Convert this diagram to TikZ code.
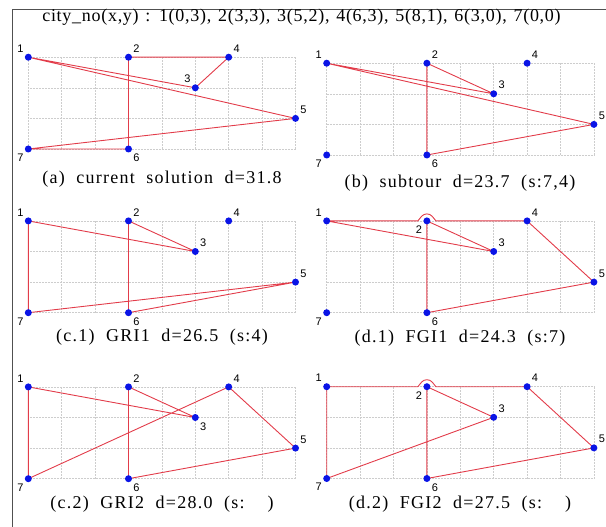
\documentclass[tikz,border=0pt]{standalone}
\usepackage{fontspec}
\setmainfont{Liberation Serif}
\newfontfamily\capfont[LetterSpace=7,WordSpace=2]{Liberation Serif}
\newfontfamily\headfont[LetterSpace=4,WordSpace=1.3]{Liberation Serif}
\newfontfamily\numfont{Liberation Sans}
\usetikzlibrary{backgrounds}
\definecolor{tourc}{HTML}{E23C4A}
\definecolor{cityc}{HTML}{0A14E6}
\definecolor{gridc}{HTML}{CDCDCD}
\definecolor{framec}{HTML}{505050}
\tikzset{
  gridln/.style={draw=gridc, densely dotted, line width=0.5pt},
  tour/.style={draw=tourc, line width=0.9pt, line join=round},
  city/.style={circle, fill=cityc, inner sep=0pt, minimum size=7pt},
  lbl/.style={font=\numfont\fontsize{11}{11}\selectfont, inner sep=1pt},
  caption/.style={font=\capfont\fontsize{18}{18}\selectfont, inner sep=1pt},
}
% grid and the seven cities of one panel: #1 prefix, #2/#3 label side of 2 and 3
\newcommand{\cityset}[3]{%
  \begin{scope}[on background layer]
    \foreach \i in {0,...,8} \draw[gridln] (\i,0) -- (\i,3);
    \foreach \j in {0,...,3} \draw[gridln] (0,\j) -- (8,\j);
  \end{scope}
  \node[city, label={[lbl]above left:1}] (#1-1) at (0,3) {};
  \node[city, label={[lbl]#2:2}] (#1-2) at (3,3) {};
  \node[city, label={[lbl]#3:3}] (#1-3) at (5,2) {};
  \node[city, label={[lbl]above right:4}] (#1-4) at (6,3) {};
  \node[city, label={[lbl]above right:5}] (#1-5) at (8,1) {};
  \node[city, label={[lbl]below right:6}] (#1-6) at (3,0) {};
  \node[city, label={[lbl]below left:7}] (#1-7) at (0,0) {};
}

\begin{document}
\begin{tikzpicture}[x=1pt, y=1pt, label distance=1.5pt]
\useasboundingbox (0,0) rectangle (606,-527);
\draw[framec, line width=0.8pt] (12.7,-527) -- (12.7,-9.5) -- (606,-9.5);
\node[font=\headfont\fontsize{18}{18}\selectfont] (title) at (301.5,-17.5)
  {city\_no(x,y) : 1(0,3), 2(3,3), 3(5,2), 4(6,3), 5(8,1), 6(3,0), 7(0,0)};

% (a)
\begin{scope}[shift={(28.3pt,-149pt)}, x=33.4pt, y=30.6pt]
\cityset{a}{above right}{above left}
\begin{scope}[on background layer]
\draw[tour] (a-1.center) -- (a-3.center) -- (a-4.center) -- (a-2.center) -- (a-6.center) -- (a-7.center) -- (a-5.center) -- cycle;
\end{scope}
\end{scope}
\node[caption] (capa) at (162,-179.5) {(a) current solution d=31.8};

% (b)
\begin{scope}[shift={(326.7pt,-155pt)}, x=33.4pt, y=30.6pt]
\cityset{b}{above right}{above right}
\begin{scope}[on background layer]
\draw[tour] (b-1.center) -- (b-3.center) -- (b-2.center) -- (b-6.center) -- (b-5.center) -- cycle;
\end{scope}
\end{scope}
\node[caption] (capb) at (460,-183.5) {(b) subtour d=23.7 (s:7,4)};

% (c.1)
\begin{scope}[shift={(28.3pt,-312.7pt)}, x=33.4pt, y=30.6pt]
\cityset{ca}{above right}{above right}
\begin{scope}[on background layer]
\draw[tour] (ca-1.center) -- (ca-3.center) -- (ca-2.center) -- (ca-6.center) -- (ca-5.center) -- (ca-7.center) -- cycle;
\end{scope}
\end{scope}
\node[caption] (capca) at (162,-337.5) {(c.1) GRI1 d=26.5 (s:4)};

% (d.1)
\begin{scope}[shift={(326.7pt,-312.7pt)}, x=33.4pt, y=30.6pt]
\cityset{da}{below left}{above right}
\begin{scope}[on background layer]
\draw[tour] (da-1.center) -- ([xshift=-9pt]da-2.center) to[out=50,in=180] ([yshift=7pt]da-2.center)
  to[out=0,in=130] ([xshift=9pt]da-2.center) -- (da-4.center) -- (da-5.center) -- (da-6.center)
  -- (da-2.center) -- (da-3.center) -- cycle;
\end{scope}
\end{scope}
\node[caption] (capda) at (460,-338) {(d.1) FGI1 d=24.3 (s:7)};

% (c.2)
\begin{scope}[shift={(28.3pt,-478.7pt)}, x=33.4pt, y=30.6pt]
\cityset{cb}{above right}{below right}
\begin{scope}[on background layer]
\draw[tour] (cb-1.center) -- (cb-3.center) -- (cb-2.center) -- (cb-6.center) -- (cb-5.center) -- (cb-4.center) -- (cb-7.center) -- cycle;
\end{scope}
\end{scope}
\node[caption] (capcb) at (162,-504) {(c.2) GRI2 d=28.0 (s:\ \ )};

% (d.2)
\begin{scope}[shift={(326.7pt,-478.5pt)}, x=33.4pt, y=30.6pt]
\cityset{db}{below left}{above right}
\begin{scope}[on background layer]
\draw[tour] (db-1.center) -- ([xshift=-9pt]db-2.center) to[out=50,in=180] ([yshift=7pt]db-2.center)
  to[out=0,in=130] ([xshift=9pt]db-2.center) -- (db-4.center) -- (db-5.center) -- (db-6.center)
  -- (db-2.center) -- (db-3.center) -- (db-7.center) -- cycle;
\end{scope}
\end{scope}
\node[caption] (capdb) at (460,-504) {(d.2) FGI2 d=27.5 (s:\ \ )};
\end{tikzpicture}
\end{document}
